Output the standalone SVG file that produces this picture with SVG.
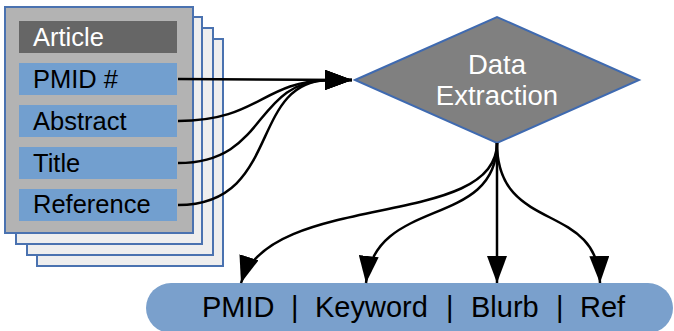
<svg xmlns="http://www.w3.org/2000/svg" width="674" height="331" viewBox="0 0 674 331">
  <style>
    .page { fill: #eeeeee; stroke: #4a72b0; stroke-width: 2; }
    .front { fill: #b3b3b3; stroke: #4a72b0; stroke-width: 2; }
    .field { fill: #729fcf; }
    .label { font-family: "Liberation Sans", Arial, sans-serif; font-size: 25.5px; fill: #000; }
    .edge { fill: none; stroke: #000; stroke-width: 2.5; }
  </style>
  <defs>
    <marker id="arrow" markerUnits="userSpaceOnUse" viewBox="0 0 27 20" refX="27" refY="10" markerWidth="27" markerHeight="20" orient="auto">
      <path d="M0,0 L27,10 L0,20 Z" fill="#000"/>
    </marker>
  </defs>

  <!-- Article record: stacked pages with fields -->
  <g id="article">
    <rect class="page" x="37" y="39" width="186" height="227"/>
    <rect class="page" x="27" y="28" width="186" height="227"/>
    <rect class="page" x="16" y="17" width="186" height="227"/>
    <rect class="front" x="5" y="7" width="188" height="226"/>
    <rect x="19" y="21" width="158" height="32" fill="#666666"/>
    <text class="label" x="33" y="46" style="fill:#ffffff">Article</text>
  </g>
  <g id="field-pmid">
    <rect class="field" x="19" y="63" width="158" height="32"/>
    <text class="label" x="33" y="88">PMID #</text>
  </g>
  <g id="field-abstract">
    <rect class="field" x="19" y="105" width="158" height="32"/>
    <text class="label" x="33" y="130">Abstract</text>
  </g>
  <g id="field-title">
    <rect class="field" x="19" y="147" width="158" height="32"/>
    <text class="label" x="33" y="172">Title</text>
  </g>
  <g id="field-reference">
    <rect class="field" x="19" y="189" width="158" height="32"/>
    <text class="label" x="33" y="213">Reference</text>
  </g>

  <!-- Extraction step -->
  <g id="data-extraction">
    <polygon points="355,80 497,17 639,80 497,143" fill="#808080" stroke="#3f6ab0" stroke-width="2"/>
    <text x="497" y="74" text-anchor="middle" font-family="Liberation Sans, Arial, sans-serif" font-size="27.5" fill="#ffffff">Data</text>
    <text x="497" y="105" text-anchor="middle" font-family="Liberation Sans, Arial, sans-serif" font-size="27.5" fill="#ffffff">Extraction</text>
  </g>

  <!-- Output record -->
  <g id="output">
    <rect x="146" y="283" width="527" height="50" rx="25" fill="#7aa0cc"/>
    <text y="317" font-family="Liberation Sans, Arial, sans-serif" font-size="29" fill="#000"><tspan x="202">PMID</tspan><tspan x="291">|</tspan><tspan x="315">Keyword</tspan><tspan x="446">|</tspan><tspan x="471">Blurb</tspan><tspan x="556">|</tspan><tspan x="580">Ref</tspan></text>
  </g>

  <!-- Connectors -->
  <g id="connectors">
    <path class="edge" d="M178,79 L352,80" marker-end="url(#arrow)"/>
    <path class="edge" d="M178,121 C258,121 262,82 328,80 L352,80" marker-end="url(#arrow)"/>
    <path class="edge" d="M178,163 C268,163 252,82 328,80 L352,80" marker-end="url(#arrow)"/>
    <path class="edge" d="M178,205 C282,205 248,82 328,80 L352,80" marker-end="url(#arrow)"/>

    <path class="edge" d="M497,143 C497,230 270,190 241,283" marker-end="url(#arrow)"/>
    <path class="edge" d="M497,143 C497,230 375,195 366,283" marker-end="url(#arrow)"/>
    <path class="edge" d="M497,143 L497,283" marker-end="url(#arrow)"/>
    <path class="edge" d="M497,143 C497,235 598,200 600,283" marker-end="url(#arrow)"/>
  </g>
</svg>
